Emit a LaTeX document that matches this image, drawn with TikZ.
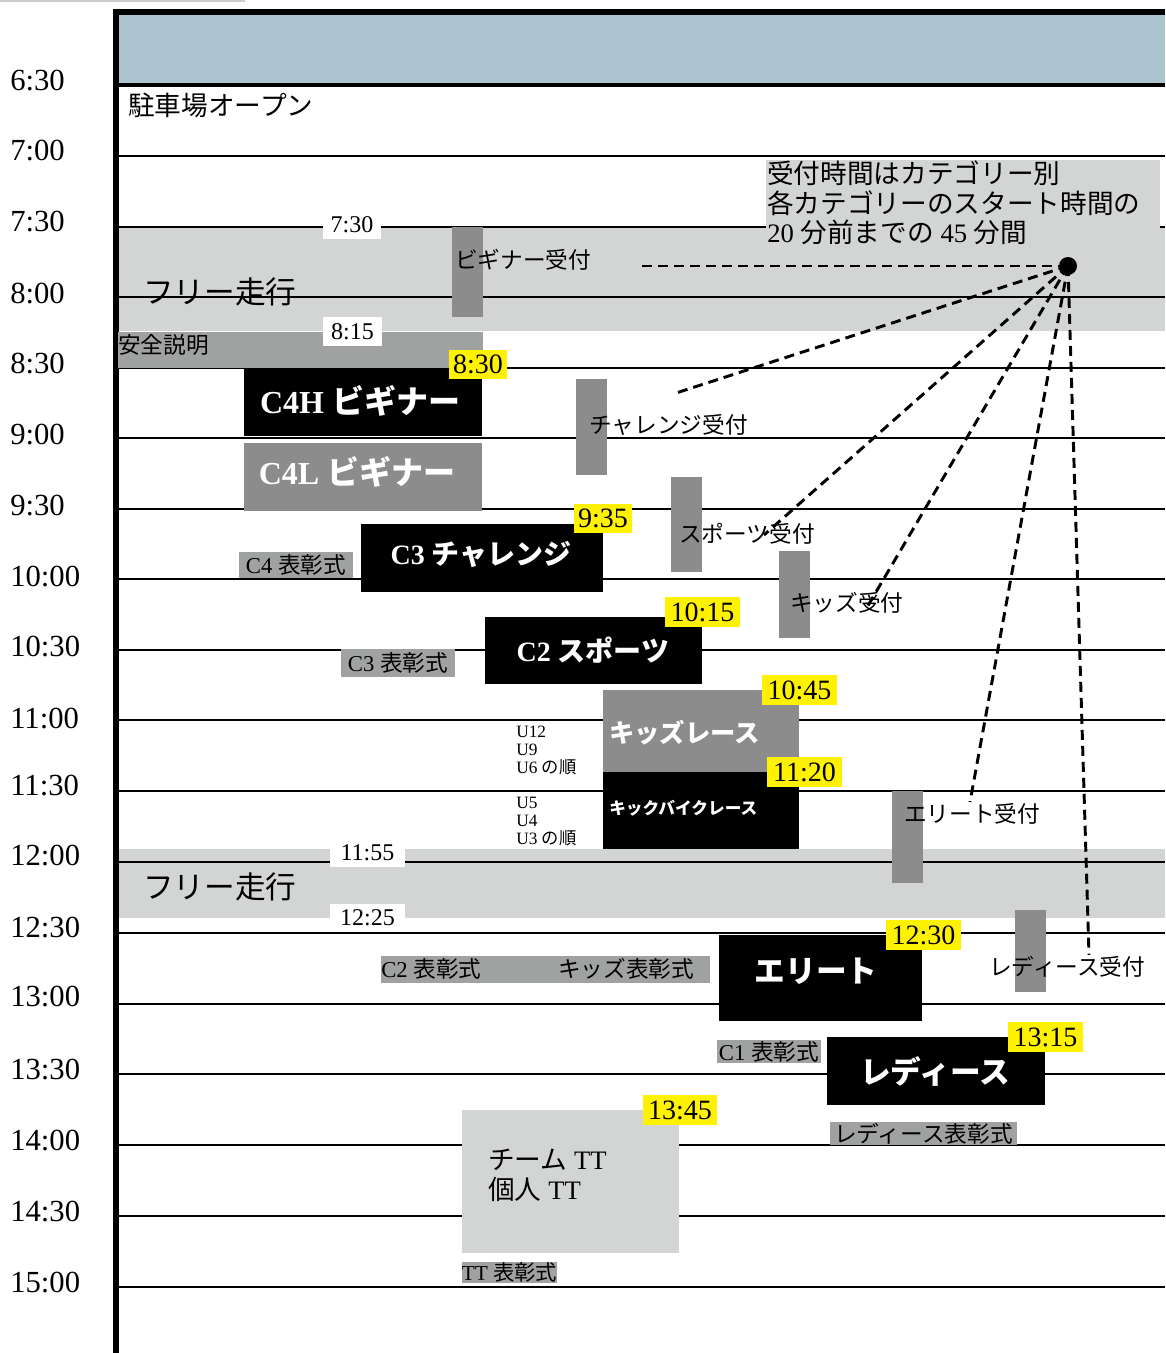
\documentclass[tikz,border=0pt]{standalone}
\usepackage{fontspec}
\setmainfont{Liberation Serif}
\newfontfamily\jp{Noto Sans CJK JP}
\usetikzlibrary{fit}
\definecolor{hdr}{HTML}{ABC4CF}
\definecolor{lgray}{HTML}{D3D5D5}
\definecolor{mgray}{HTML}{8C8C8C}
\definecolor{agray}{HTML}{A0A1A1}
\definecolor{yel}{HTML}{FFF200}
\newcommand\J[1]{{\jp #1}}
\tikzset{
  bx/.style={inner sep=0pt, draw=none},
  blackbox/.style={bx, fill=black},
  graybox/.style={bx, fill=mgray},
  bar/.style={bx, fill=mgray},
  award/.style={bx, fill=agray},
  yl/.style={bx, fill=yel},
  wl/.style={bx, fill=white},
  ylt/.style={inner sep=0pt, font=\fontsize{21}{22}\selectfont},
  wlt/.style={inner sep=0pt, font=\fontsize{18}{20}\selectfont},
  awt/.style={inner sep=0pt, font=\fontsize{17}{19}\selectfont},
  bigt/.style={inner sep=0pt, text=white, font=\fontsize{#1}{26}\selectfont\bfseries},
  bigt/.default=23,
  band/.style={fill=lgray, draw=none},
  gridline/.style={line width=1.5pt},
  tlabel/.style={anchor=west, inner sep=0pt, font=\fontsize{23}{25}\selectfont},
  txt/.style={anchor=west, inner sep=0pt, font=\fontsize{17}{19}\selectfont},
  dsh/.style={line width=2.2pt, dash pattern=on 7.5pt off 4.5pt},
}
\begin{document}
\begin{tikzpicture}[x=0.75pt,y=-0.75pt]
\useasboundingbox (0,0) rectangle (1165,1353);
% top faint line
\draw[black!20, line width=1.5pt] (0,1) -- (245,1);
% header
\fill[hdr] (118,14) rectangle (1165,84);
\draw[line width=4.5pt] (113,12) -- (1165,12);
\draw[line width=3pt] (118,85) -- (1165,85);
% bands
\fill[band] (118,227) rectangle (1165,331);
\fill[band] (118,849) rectangle (1165,918);
% grid lines
\foreach \y in {156,227,297,368,438,509,579,650,720,791,862,933,1004,1074,1145,1216,1287}
  \draw[gridline] (119,\y) -- (1165,\y);
% left border
\draw[line width=4.5pt] (116,9) -- (116,1353);
% time labels
\foreach \t/\y in {6:30/81,7:00/151,7:30/222,8:00/294,8:30/364,9:00/435,9:30/506,10:00/577,10:30/647,11:00/719,11:30/786,12:00/856,12:30/928,13:00/997,13:30/1070,14:00/1141,14:30/1212,15:00/1283}
  \node[tlabel] (t\y) at (10,\y) {\t};
% annotation
\node[bx, fill=lgray, fit={(766,160)(1160,250)}] (notebox) {};
\node[anchor=west, inner sep=0pt, align=left, font=\fontsize{20}{22}\selectfont] (note) at (767,203)
  {\J{受付時間はカテゴリー別}\\\J{各カテゴリーのスタート時間の}\\20 \J{分前までの} 45 \J{分間}};
% texts
\node[txt, font=\fontsize{20}{22}\selectfont] (park) at (128,105) {\J{駐車場オープン}};
\node[txt, font=\fontsize{23}{25}\selectfont] (free1) at (143,292) {\J{フリー走行}};
\node[txt, font=\fontsize{23}{25}\selectfont] (free2) at (143,887) {\J{フリー走行}};
% safety
\node[bx, fill=agray, fit={(118,332)(483,368)}] (safebox) {};
\node[txt] (safe) at (118,345) {\J{安全説明}};
% white time labels
\node[wl, fit={(323,211)(381,239)}] (w730) {};
\node[wlt] (w730t) at (w730) {7:30};
\node[wl, fit={(323,317)(382,346)}] (w815) {};
\node[wlt] (w815t) at (w815) {8:15};
\node[wl, fit={(330,838)(405,867)}] (w1155) {};
\node[wlt] (w1155t) at (w1155) {11:55};
\node[wl, fit={(330,904)(405,932)}] (w1225) {};
\node[wlt] (w1225t) at (w1225) {12:25};
% receipt bars
\node[bar, fit={(452,227)(483,317)}] (rb1) {};
\node[txt] (rt1) at (455,260) {\J{ビギナー受付}};
\node[bar, fit={(576,379)(607,475)}] (rb2) {};
\node[txt] (rt2) at (589,425) {\J{チャレンジ受付}};
\node[bar, fit={(671,477)(702,572)}] (rb3) {};
\node[txt] (rt3) at (679,534) {\J{スポーツ受付}};
\node[bar, fit={(779,551)(810,638)}] (rb4) {};
\node[txt] (rt4) at (790,603) {\J{キッズ受付}};
\node[bar, fit={(892,791)(923,883)}] (rb5) {};
\node[txt] (rt5) at (904,814) {\J{エリート受付}};
\node[bar, fit={(1015,910)(1046,992)}] (rb6) {};
\node[txt] (rt6) at (989,967) {\J{レディース受付}};
% races
\node[blackbox, fit={(244,368)(482,436)}] (c4hbox) {};
\node[bigt=24] (c4h) at (360,401) {C4H \J{ビギナー}};
\node[yl, fit={(449,350)(507,379)}] (y830) {};
\node[ylt] (y830t) at (y830) {8:30};
\node[graybox, fit={(244,443)(482,511)}] (c4lbox) {};
\node[bigt=24] (c4l) at (357,472) {C4L \J{ビギナー}};
\node[blackbox, fit={(361,524)(603,592)}] (c3box) {};
\node[bigt=21] (c3) at (481,554) {C3 \J{チャレンジ}};
\node[yl, fit={(574,504)(632,533)}] (y935) {};
\node[ylt] (y935t) at (y935) {9:35};
\node[award, fit={(239,552)(353,578)}] (a4) {};
\node[awt] (a4t) at (a4) {C4 \J{表彰式}};
\node[award, fit={(341,649)(455,677)}] (a3) {};
\node[awt] (a3t) at (a3) {C3 \J{表彰式}};
\node[blackbox, fit={(485,617)(702,684)}] (c2box) {};
\node[bigt=21] (c2) at (593,650) {C2 \J{スポーツ}};
\node[yl, fit={(665,597)(740,627)}] (y1015) {};
\node[ylt] (y1015t) at (y1015) {10:15};
\node[graybox, fit={(603,690)(799,772)}] (kidsbox) {};
\node[bigt=19, anchor=west] (kids) at (609,733) {\J{キッズレース}};
\node[blackbox, fit={(603,772)(799,849)}] (kickbox) {};
\node[bigt=12.5, anchor=west] (kick) at (609,808) {\J{キックバイクレース}};
\node[yl, fit={(762,675)(837,705)}] (y1045) {};
\node[ylt] (y1045t) at (y1045) {10:45};
\node[yl, fit={(767,757)(842,787)}] (y1120) {};
\node[ylt] (y1120t) at (y1120) {11:20};
\node[anchor=west, inner sep=0pt, align=left, font=\fontsize{13}{13.5}\selectfont] (u1) at (516,750) {U12\\U9\\U6 \J{の順}};
\node[anchor=west, inner sep=0pt, align=left, font=\fontsize{13}{13.5}\selectfont] (u2) at (516,822) {U5\\U4\\U3 \J{の順}};
% afternoon
\node[award, fit={(381,956)(710,983)}] (a2box) {};
\node[txt] (a2) at (381,969) {C2 \J{表彰式}};
\node[txt] (ak) at (558,969) {\J{キッズ表彰式}};
\node[blackbox, fit={(719,935)(922,1021)}] (elbox) {};
\node[bigt=23] (el) at (816,971) {\J{エリート}};
\node[yl, fit={(886,920)(961,950)}] (y1230) {};
\node[ylt] (y1230t) at (y1230) {12:30};
\node[award, fit={(717,1040)(821,1063)}] (a1) {};
\node[awt] (a1t) at (a1) {C1 \J{表彰式}};
\node[blackbox, fit={(827,1037)(1045,1105)}] (ladybox) {};
\node[bigt=23] (lady) at (935,1071) {\J{レディース}};
\node[yl, fit={(1008,1022)(1083,1052)}] (y1315) {};
\node[ylt] (y1315t) at (y1315) {13:15};
\node[award, fit={(830,1122)(1017,1145)}] (al) {};
\node[awt] (alt) at (al) {\J{レディース表彰式}};
\node[bx, fill=lgray, fit={(462,1110)(679,1253)}] (ttbox) {};
\node[anchor=west, inner sep=0pt, align=left, font=\fontsize{20}{22.5}\selectfont] (tt) at (488,1175) {\J{チーム} TT\\\J{個人} TT};
\node[yl, fit={(643,1095)(717,1125)}] (y1345) {};
\node[ylt] (y1345t) at (y1345) {13:45};
\node[award, fit={(462,1262)(557,1283)}] (att) {};
\node[awt, font=\fontsize{16}{18}\selectfont] (attt) at (att) {TT \J{表彰式}};
% dashed connectors
\node[circle, fill=black, inner sep=0pt, minimum size=13.5pt] (dot) at (1068,266) {};
\coordinate (e1) at (638,266);
\coordinate (e2) at (673,394);
\coordinate (e3) at (764,535);
\coordinate (e4) at (866,609);
\coordinate (e5) at (970,802);
\coordinate (e6) at (1089,955);
\foreach \e in {e1,e2,e3,e4,e5,e6}
  \draw[dsh] (dot.center) -- (\e);
\end{tikzpicture}
\end{document}
